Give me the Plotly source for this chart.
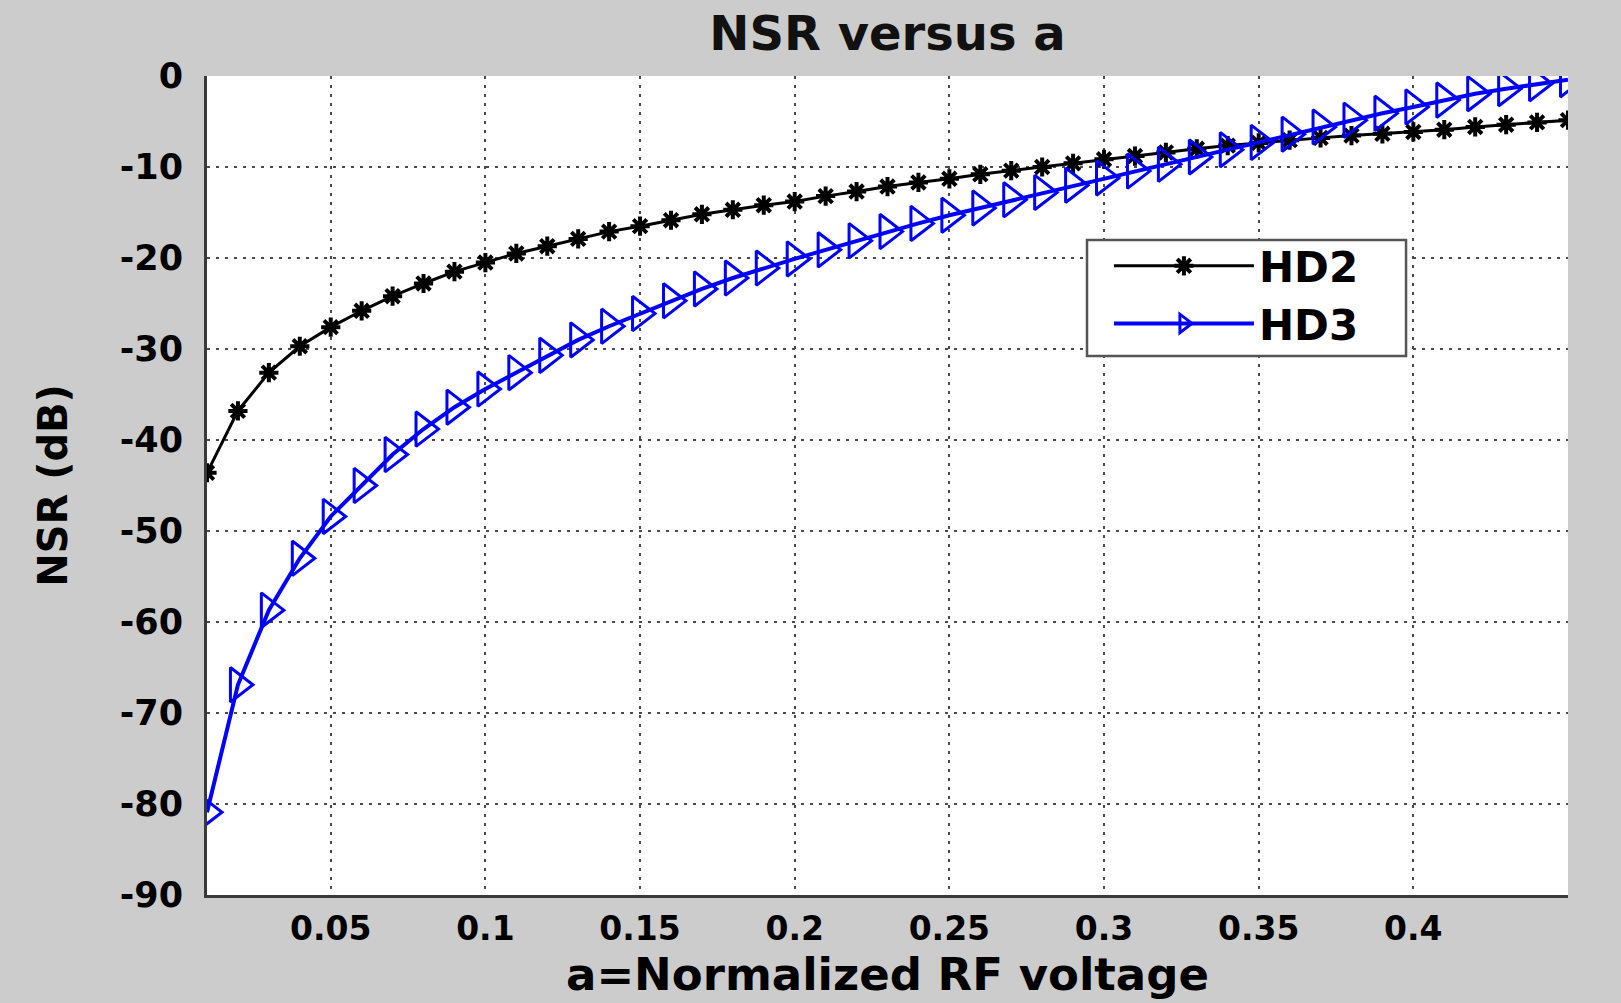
import plotly.graph_objects as go

# ---- data ----
a_values = [0.01, 0.02, 0.03, 0.04, 0.05, 0.06, 0.07, 0.08, 0.09, 0.10,
            0.11, 0.12, 0.13, 0.14, 0.15, 0.16, 0.17, 0.18, 0.19, 0.20,
            0.21, 0.22, 0.23, 0.24, 0.25, 0.26, 0.27, 0.28, 0.29, 0.30,
            0.31, 0.32, 0.33, 0.34, 0.35, 0.36, 0.37, 0.38, 0.39, 0.40,
            0.41, 0.42, 0.43, 0.44, 0.45]

hd2_db = [-43.6, -36.8, -32.6, -29.7, -27.6, -25.8, -24.2, -22.8, -21.5, -20.5,
          -19.5, -18.7, -17.9, -17.1, -16.5, -15.85, -15.2, -14.7, -14.2, -13.8,
          -13.2, -12.7, -12.15, -11.7, -11.3, -10.8, -10.4, -10.0, -9.6, -9.15,
          -8.8, -8.4, -8.0, -7.65, -7.35, -7.05, -6.8, -6.55, -6.35, -6.15,
          -5.9, -5.6, -5.35, -5.1, -4.85]

hd3_db = [-80.9, -66.9, -58.7, -53.0, -48.4, -45.0, -41.6, -38.8, -36.4, -34.4,
          -32.6, -30.7, -29.0, -27.5, -26.1, -24.7, -23.4, -22.2, -21.1, -20.1,
          -19.1, -18.1, -17.1, -16.2, -15.3, -14.5, -13.6, -12.8, -12.0, -11.2,
          -10.45, -9.7, -8.9, -8.1, -7.3, -6.4, -5.6, -4.85, -4.1, -3.4,
          -2.65, -1.95, -1.4, -0.85, -0.4]

x_tick_vals = [0.05, 0.1, 0.15, 0.2, 0.25, 0.3, 0.35, 0.4]
x_tick_text = ["0.05", "0.1", "0.15", "0.2", "0.25", "0.3", "0.35", "0.4"]
y_tick_vals = [0, -10, -20, -30, -40, -50, -60, -70, -80, -90]
y_tick_text = ["0", "-10", "-20", "-30", "-40", "-50", "-60", "-70", "-80", "-90"]

FONT = "DejaVu Sans"

fig = go.Figure()
fig.add_trace(go.Scatter(
    x=a_values, y=hd2_db, name="HD2", mode="lines+markers",
    line=dict(color="black", width=3),
    marker=dict(symbol="asterisk-open", size=16, color="black",
                line=dict(width=4, color="black")),
))
fig.add_trace(go.Scatter(
    x=a_values, y=hd3_db, name="HD3", mode="lines+markers",
    line=dict(color="#0000ff", width=4),
    marker=dict(symbol="triangle-right-open", size=30, color="#0000ff",
                line=dict(width=3, color="#0000ff")),
))

grid_color = "#4a4a4a"
fig.update_layout(
    width=1621, height=1003,
    margin=dict(l=207, r=53, t=76, b=108),
    paper_bgcolor="#cccccc",
    plot_bgcolor="white",
    font=dict(family=FONT, color="black", weight=700),
    title=dict(text="NSR versus a", x=0.5, xref="paper", y=0.967, yref="container",
               xanchor="center", yanchor="middle",
               font=dict(family=FONT, size=48, color="#111", weight=700)),
    legend=dict(
        x=0.6627, y=0.8095, xanchor="left", yanchor="top",
        bgcolor="rgba(0,0,0,0)", borderwidth=0,
        font=dict(family=FONT, size=42, color="black", weight=700),
        itemwidth=140, tracegroupgap=0,
    ),
    shapes=[dict(type="rect", xref="paper", yref="paper",
                 x0=0.6466, x1=0.881, y0=0.658, y1=0.7998,
                 fillcolor="white", line=dict(color="#555555", width=2.5),
                 layer="above")],
    showlegend=True,
)
fig.update_xaxes(
    range=[0.01, 0.45], tickvals=x_tick_vals, ticktext=x_tick_text,
    showgrid=True, gridcolor=grid_color, griddash="3px,6px", gridwidth=2,
    showline=True, linecolor="#3a3a3a", linewidth=3, mirror=False,
    zeroline=False, ticks="", ticklabelstandoff=2,
    tickfont=dict(family=FONT, size=33, color="black", weight=700),
    title=dict(text="a=Normalized RF voltage", standoff=12,
               font=dict(family=FONT, size=45, color="black", weight=700)),
)
fig.update_yaxes(
    range=[-90, 0], tickvals=y_tick_vals, ticktext=y_tick_text,
    showgrid=True, gridcolor=grid_color, griddash="3px,6px", gridwidth=2,
    showline=True, linecolor="#3a3a3a", linewidth=3, mirror=False,
    zeroline=False, ticks="", ticklabelstandoff=14,
    tickfont=dict(family=FONT, size=35, color="black", weight=700),
    title=dict(text="NSR (dB)", standoff=40,
               font=dict(family=FONT, size=40, color="black", weight=700)),
)

fig.write_html("out.html")
